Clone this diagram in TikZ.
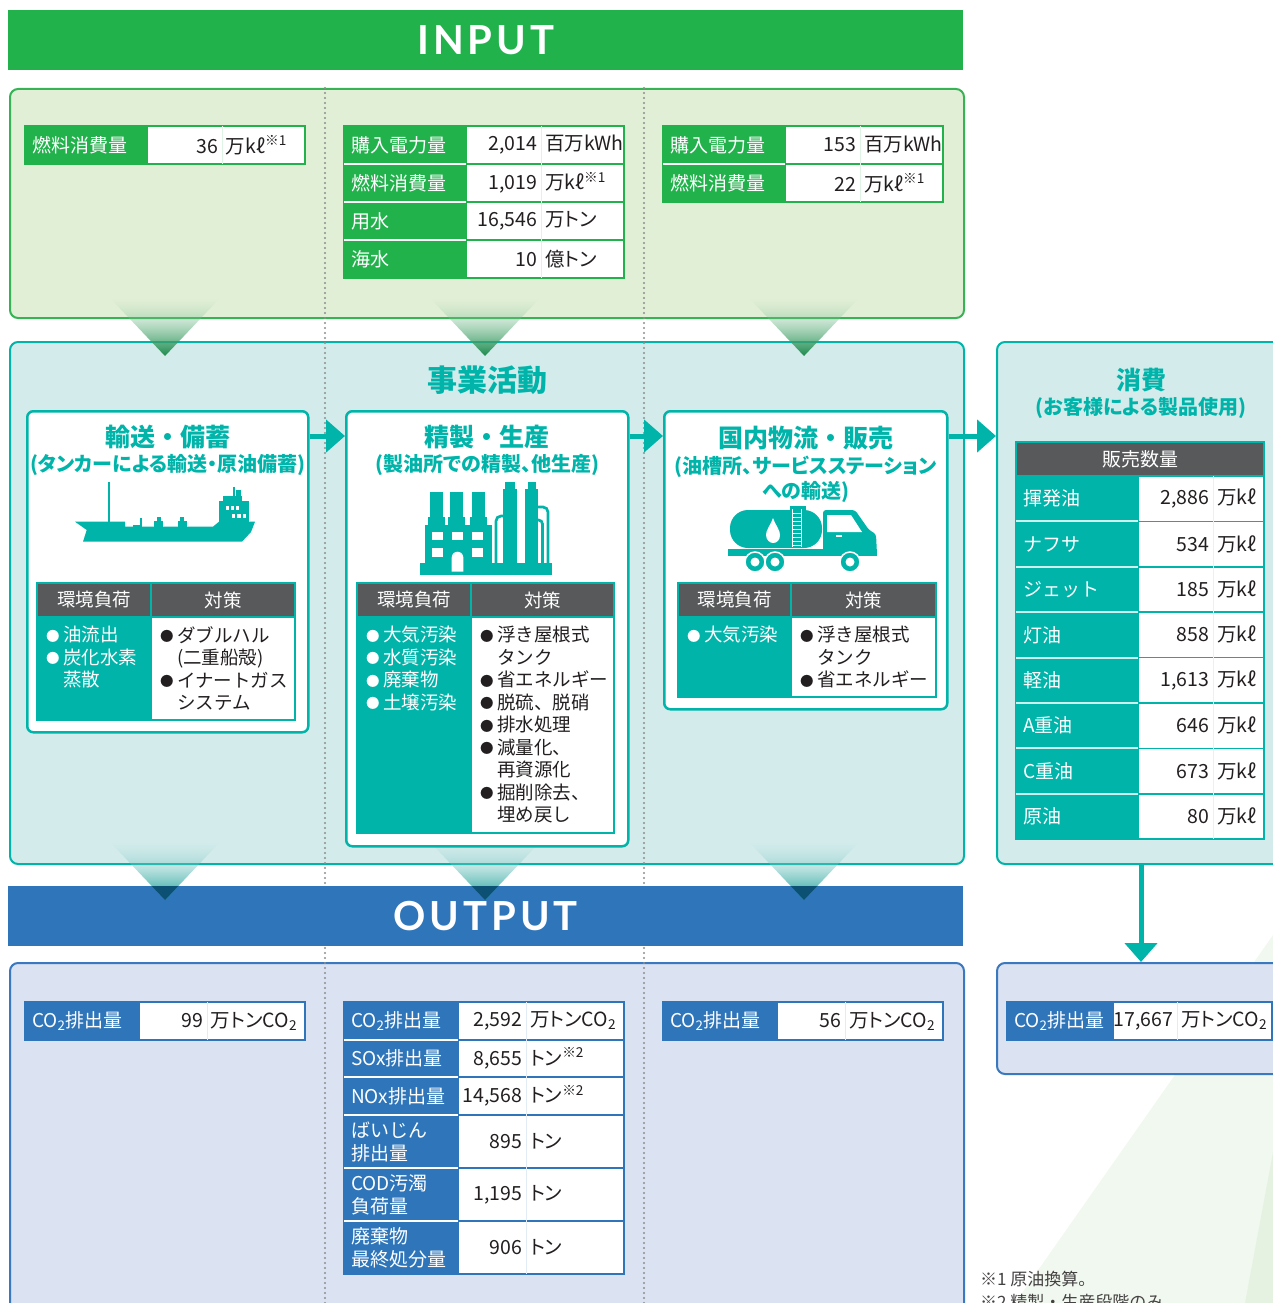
\documentclass[tikz,border=0pt]{standalone}
\usepackage{fontspec}
\setmainfont{Noto Sans CJK JP}
\newfontfamily\bannerfont{Lato}[LetterSpace=10]
\usepackage{tikz}
\usetikzlibrary{positioning,arrows.meta,fadings}

\definecolor{ingreen}{HTML}{22B24C}
\definecolor{inbg}{HTML}{E2EFD7}
\definecolor{inedge}{HTML}{36B455}
\definecolor{tealc}{HTML}{00B4AA}
\definecolor{actbg}{HTML}{D3EBEB}
\definecolor{outblue}{HTML}{2E75BA}
\definecolor{outbg}{HTML}{DBE2F1}
\definecolor{outedge}{HTML}{3A79C0}
\definecolor{hdgray}{HTML}{58595B}
\definecolor{dotgray}{HTML}{8E8E8E}
\definecolor{txtgray}{HTML}{231F20}
\definecolor{funtopg}{HTML}{A5D6AE}
\definecolor{funbotg}{HTML}{1B8A4D}
\definecolor{funtopt}{HTML}{A3D9D5}
\definecolor{funbott}{HTML}{169C96}
\definecolor{funtip}{HTML}{0C5173}
\definecolor{bandlight}{HTML}{F1F8EF}
\definecolor{banddark}{HTML}{E5F2E1}

\tikzfading[name=funnelfade, top color=transparent!100, bottom color=transparent!0]

\newcommand\numunit[3][71pt]{\makebox[#1][r]{#2}\kern8pt#3}
\newcommand\cotwo{CO\textsubscript{2}}
\newcommand\refmark[1]{\textsuperscript{※#1}}
\newcommand\blt{\makebox[17pt][l]{\raisebox{0.6pt}{\fontsize{13.5}{13.5}\selectfont ●}}}
\newcommand\bltsp{\hspace*{17pt}}

\begin{document}
\begin{tikzpicture}[
    x=1pt, y=-1pt,
    font=\fontsize{19}{23}\selectfont,
    >={Triangle[width=32pt,length=19pt]},
    panel/.style={
        rectangle,
        rounded corners=8pt,
        line width=2pt,
        anchor=north west,
        inner sep=0pt
    },
    banner/.style={
        rectangle,
        anchor=north west,
        minimum width=955pt,
        minimum height=60pt,
        inner sep=0pt,
        text=white,
        font=\bannerfont\bfseries\fontsize{40}{40}\selectfont
    },
    stage/.style={
        rectangle,
        rounded corners=6pt,
        draw=tealc,
        line width=2.5pt,
        fill=white,
        anchor=north west,
        inner sep=0pt
    },
    stagetitle/.style={
        text=tealc,
        font=\bfseries\fontsize{25}{28}\selectfont
    },
    stagesub/.style={
        text=tealc,
        align=center,
        font=\bfseries\addfontfeature{RawFeature=+palt}\fontsize{20}{25}\selectfont
    },
    cell/.style={
        rectangle,
        inner ysep=0pt,
        outer sep=0pt,
        line width=1.5pt
    },
    valfont/.style={font=\addfontfeature{RawFeature=+palt}\fontsize{19.5}{23}\selectfont},
    inlab/.style={cell, fill=ingreen, draw=ingreen, text=white, inner xsep=7pt,
        text width=108pt, align=left, minimum height=38pt},
    inval/.style={cell, fill=white, draw=ingreen, text=txtgray, inner xsep=0pt,
        text width=158pt, align=left, minimum height=38pt, valfont},
    outlab/.style={cell, fill=outblue, draw=outblue, text=white, inner xsep=7pt,
        text width=100pt, align=left, minimum height=38pt},
    outval/.style={cell, fill=white, draw=outblue, text=txtgray, inner xsep=0pt,
        text width=166pt, align=left, minimum height=38pt, valfont},
    conshd/.style={cell, anchor=north west, fill=hdgray, draw=tealc, text=white,
        inner xsep=0pt, minimum width=248pt, minimum height=34pt},
    conslab/.style={cell, fill=tealc, draw=tealc, text=white, inner xsep=7pt,
        text width=108pt, align=left, minimum height=45.4pt},
    consval/.style={cell, fill=white, draw=tealc, text=txtgray, inner xsep=0pt,
        text width=126pt, align=left, minimum height=45.4pt, valfont},
    envhd/.style={cell, anchor=north west, fill=hdgray, draw=tealc, text=white,
        inner xsep=0pt, minimum height=34pt, font=\fontsize{18.5}{22}\selectfont},
    envleft/.style={cell, fill=tealc, draw=tealc},
    envright/.style={cell, fill=white, draw=tealc},
    envtext/.style={anchor=north west, inner sep=0pt, align=left,
        font=\fontsize{18.5}{22.5}\selectfont},
    sepline/.style={white, line width=2pt},
    faint/.style={line width=0.8pt},
    flow/.style={->, draw=tealc, line width=5pt},
    dotline/.style={dotgray, line width=2.2pt, line cap=round, dash pattern=on 0pt off 5pt},
    footnote/.style={anchor=west, inner sep=0pt, text=txtgray!85,
        font=\fontsize{17}{20}\selectfont}
  ]
  \useasboundingbox (0,0) rectangle (1273,1303);

  % light bands behind the bottom right corner
  \fill[bandlight] (1273,935) -- (1015,1303) -- (1273,1303) -- cycle;
  \fill[banddark] (1273,1152) -- (1245,1303) -- (1273,1303) -- cycle;

  % We start by placing the panels
  \node [panel, fill=inbg, draw=inedge, minimum width=954pt, minimum height=229pt] (input) at (9,88) {};
  \node [panel, fill=actbg, draw=tealc, minimum width=954pt, minimum height=522pt] (activity) at (9,341) {};
  \node [panel, fill=actbg, draw=tealc, minimum width=288pt, minimum height=522pt] (usage) at (996,341) {};
  \node [panel, fill=outbg, draw=outedge, minimum width=954pt, minimum height=360pt] (output) at (9,962) {};
  \node [panel, fill=outbg, draw=outedge, minimum width=288pt, minimum height=111pt] (usageout) at (996,962) {};

  \draw [dotline] (325,88) -- (325,1303);
  \draw [dotline] (644,88) -- (644,1303);

  \node [banner, fill=ingreen] (inbanner) at (8,10) {INPUT};
  \node [banner, fill=outblue] (outbanner) at (8,886) {OUTPUT};

  % funnels
  \shade [top color=funtopg, bottom color=funbotg, path fading=funnelfade] (110,298) -- (220,298) -- (165,356) -- cycle;
  \shade [top color=funtopg, bottom color=funbotg, path fading=funnelfade] (430,298) -- (540,298) -- (485,356) -- cycle;
  \shade [top color=funtopg, bottom color=funbotg, path fading=funnelfade] (749,298) -- (859,298) -- (804,356) -- cycle;
  \shade [top color=funtopt, bottom color=funbott, path fading=funnelfade] (110,842) -- (220,842) -- (165,900) -- cycle;
  \shade [top color=funtopt, bottom color=funbott, path fading=funnelfade] (430,842) -- (540,842) -- (485,900) -- cycle;
  \shade [top color=funtopt, bottom color=funbott, path fading=funnelfade] (749,842) -- (859,842) -- (804,900) -- cycle;
  \fill [funtip] (151.7,886) -- (178.3,886) -- (165,900) -- cycle;
  \fill [funtip] (471.7,886) -- (498.3,886) -- (485,900) -- cycle;
  \fill [funtip] (790.7,886) -- (817.3,886) -- (804,900) -- cycle;

  \node [stagetitle, font=\bfseries\fontsize{30}{32}\selectfont] (activity-title) at ([yshift=-39pt]activity.north) {事業活動};
  \node [stagetitle] (usage-title) at ([yshift=-39pt]usage.north) {消費};
  \node [stagesub] (usage-sub) at ([yshift=-67pt]usage.north) {(お客様による製品使用)};

  % stage 1: transport and storage
  \node [stage, minimum width=281pt, minimum height=321pt] (trans) at (26,410) {};
  \node [stagetitle] (trans-title) at ([yshift=-27pt]trans.north) {輸送・備蓄};
  \node [stagesub] (trans-sub) at ([yshift=-55pt]trans.north) {(タンカーによる輸送・原油備蓄)};

  % tanker
  \fill [tealc] (75,521.7) -- (125,521.7) -- (125,526.7) -- (213,526.7) -- (219,521.7) -- (255,521.7)
        -- (251,532) -- (242,541.7) -- (83,541.7) -- (86.7,530) -- cycle;
  \fill [tealc] (219.3,501) rectangle (249.3,522);
  \fill [tealc] (223,495.7) rectangle (242,501.5);
  \fill [tealc] (236,490) rectangle (241,496);
  \draw [tealc, line width=1.7pt] (234,486.7) -- (234,496);
  \draw [tealc, line width=1.8pt] (109,481.7) -- (109,522);
  \fill [tealc] (133,524.5) rectangle (142,527);
  \fill [tealc] (140,518) rectangle (141.8,525);
  \fill [tealc] (156.5,516.5) rectangle (160.5,527);
  \fill [tealc] (154,520.5) rectangle (163,527);
  \fill [tealc] (180,516.5) rectangle (184,527);
  \fill [tealc] (177.5,520.5) rectangle (186.5,527);
  \fill [white] (225.5,505.5) rectangle (229,509.7);
  \fill [white] (230.7,505.5) rectangle (234.2,509.7);
  \fill [white] (235.9,505.5) rectangle (239.4,509.7);
  \fill [white] (231.7,514) rectangle (235.2,518.3);
  \fill [white] (237.1,514) rectangle (240.6,518.3);
  \fill [white] (242.5,514) rectangle (246,518.3);

  \node [envhd, minimum width=114pt] (trans-load) at (37,583) {環境負荷};
  \node [envhd, minimum width=144pt, right=0pt of trans-load] (trans-meas) {対策};
  \node [envleft, minimum width=114pt, minimum height=103pt, below=0pt of trans-load] (trans-lb) {};
  \node [envright, minimum width=144pt, minimum height=103pt, below=0pt of trans-meas] (trans-rb) {};
  \node [envtext, text=white, text width=100pt] (trans-lt) at ([xshift=9pt,yshift=-9pt]trans-lb.north west)
    {\blt{}油流出\\\blt{}炭化水素\\\bltsp{}蒸散};
  \node [envtext, text=txtgray, text width=135pt] (trans-rt) at ([xshift=9pt,yshift=-9pt]trans-rb.north west)
    {\blt{}ダブルハル\\\bltsp{}(二重船殻)\\\blt{}イナートガス\\\bltsp{}システム};

  % stage 2: refining and production
  \node [stage, minimum width=282pt, minimum height=435pt] (refine) at (345,410) {};
  \node [stagetitle] (refine-title) at ([yshift=-27pt]refine.north) {精製・生産};
  \node [stagesub] (refine-sub) at ([yshift=-55pt]refine.north) {(製油所での精製、他生産)};

  % refinery
  \fill [tealc] (420,563) rectangle (552,575);
  \fill [tealc] (425,525) rectangle (492,564);
  \fill [tealc] (430,492) rectangle (443,526);
  \fill [tealc] (450,492) rectangle (463,526);
  \fill [tealc] (472,492) rectangle (485,526);
  \fill [tealc] (428,517) rectangle (445,526);
  \fill [tealc] (448,517) rectangle (465,526);
  \fill [tealc] (470,517) rectangle (487,526);
  \fill [white] (431.7,531.7) rectangle (443.3,540);
  \fill [white] (451.7,531.7) rectangle (463.3,540);
  \fill [white] (471.7,531.7) rectangle (483.3,540);
  \fill [white] (431.7,548.3) rectangle (443.3,556.7);
  \fill [white] (471.7,548.3) rectangle (483.3,556.7);
  \fill [white] (451.7,571.7) -- (451.7,557.5) arc [start angle=180, end angle=0, radius=5.8pt] -- (463.3,571.7) -- cycle;
  \fill [tealc] (502.7,489) rectangle (517.3,564);
  \fill [tealc] (505,481.7) rectangle (515,490);
  \fill [tealc] (525,489) rectangle (538.3,564);
  \fill [tealc] (527.5,481.7) rectangle (536,490);
  \draw [tealc, line width=2.7pt, rounded corners=5pt] (503,516) -- (496,516) -- (496,564);
  \draw [tealc, line width=2.7pt, rounded corners=5pt] (538,507) -- (548,507) -- (548,564);
  \draw [tealc, line width=2.7pt, rounded corners=4pt] (538,520) -- (542.5,520) -- (542.5,564);

  \node [envhd, minimum width=114pt] (refine-load) at (357,583) {環境負荷};
  \node [envhd, minimum width=143pt, right=0pt of refine-load] (refine-meas) {対策};
  \node [envleft, minimum width=114pt, minimum height=216pt, below=0pt of refine-load] (refine-lb) {};
  \node [envright, minimum width=143pt, minimum height=216pt, below=0pt of refine-meas] (refine-rb) {};
  \node [envtext, text=white, text width=100pt] (refine-lt) at ([xshift=9pt,yshift=-9pt]refine-lb.north west)
    {\blt{}大気汚染\\\blt{}水質汚染\\\blt{}廃棄物\\\blt{}土壌汚染};
  \node [envtext, text=txtgray, text width=135pt] (refine-rt) at ([xshift=9pt,yshift=-9pt]refine-rb.north west)
    {\blt{}浮き屋根式\\\bltsp{}タンク\\\blt{}省エネルギー\\\blt{}脱硫、脱硝\\\blt{}排水処理\\\blt{}減量化、\\\bltsp{}再資源化\\\blt{}掘削除去、\\\bltsp{}埋め戻し};

  % stage 3: distribution and sales
  \node [stage, minimum width=283pt, minimum height=298pt] (dist) at (663,410) {};
  \node [stagetitle] (dist-title) at ([yshift=-28pt]dist.north) {国内物流・販売};
  \node [stagesub] (dist-sub) at ([yshift=-69.5pt]dist.north) {(油槽所、サービスステーション\\への輸送)};

  % tank lorry
  \fill [tealc, rounded corners=18pt] (730,510) rectangle (822,548);
  \fill [tealc] (790,506) rectangle (806,511);
  \draw [white, line width=0.8pt] (792.5,509) -- (792.5,547) (801.5,509) -- (801.5,547);
  \draw [white, line width=0.7pt] (792.5,513) -- (801.5,513) (792.5,517) -- (801.5,517) (792.5,521) -- (801.5,521)
        (792.5,525) -- (801.5,525) (792.5,529) -- (801.5,529) (792.5,533) -- (801.5,533)
        (792.5,537) -- (801.5,537) (792.5,541) -- (801.5,541) (792.5,545) -- (801.5,545);
  \fill [white] (773,518) .. controls (770,526) and (766,530) .. (766,535) .. controls (766,540) and (770,543) .. (773,543)
        .. controls (777,543) and (780,540) .. (780,535) .. controls (780,530) and (776,526) .. (773,518) -- cycle;
  \fill [tealc] (728,548.5) rectangle (877,555.5);
  \fill [tealc, rounded corners=3pt] (823,510) -- (855,510) -- (869,530) -- (876,534) -- (877,555) -- (823,555) -- cycle;
  \fill [white] (827,515) -- (851,515) -- (862,532) -- (827,532) -- cycle;
  \fill [white] (836,535) rectangle (842,536.5);
  \filldraw [tealc, draw=white, line width=1.5pt] (755,562) circle (10pt);
  \filldraw [tealc, draw=white, line width=1.5pt] (775,562) circle (10pt);
  \filldraw [tealc, draw=white, line width=1.5pt] (850,562) circle (10pt);
  \fill [white] (755,562) circle (4.5pt);
  \fill [white] (775,562) circle (4.5pt);
  \fill [white] (850,562) circle (4.5pt);

  \node [envhd, minimum width=113pt] (dist-load) at (678,583) {環境負荷};
  \node [envhd, minimum width=145pt, right=0pt of dist-load] (dist-meas) {対策};
  \node [envleft, minimum width=113pt, minimum height=80pt, below=0pt of dist-load] (dist-lb) {};
  \node [envright, minimum width=145pt, minimum height=80pt, below=0pt of dist-meas] (dist-rb) {};
  \node [envtext, text=white, text width=100pt] (dist-lt) at ([xshift=9pt,yshift=-9pt]dist-lb.north west)
    {\blt{}大気汚染};
  \node [envtext, text=txtgray, text width=135pt] (dist-rt) at ([xshift=9pt,yshift=-9pt]dist-rb.north west)
    {\blt{}浮き屋根式\\\bltsp{}タンク\\\blt{}省エネルギー};

  % input tables
  \node [inlab, anchor=north west] (fuel1) at (25,126) {燃料消費量};
  \node [inval, right=0pt of fuel1] (fuel1-v) {\numunit{36}{万kℓ\refmark1}};
  \draw [faint, ingreen!14] ([xshift=75pt]fuel1-v.north west) -- ([xshift=75pt]fuel1-v.south west);

  \node [inlab, anchor=north west] (power2) at (344,126) {購入電力量};
  \node [inval, right=0pt of power2] (power2-v) {\numunit{2,014}{百万kWh}};
  \node [inlab, below=0pt of power2] (fuel2) {燃料消費量};
  \node [inval, right=0pt of fuel2] (fuel2-v) {\numunit{1,019}{万kℓ\refmark1}};
  \node [inlab, below=0pt of fuel2] (water2) {用水};
  \node [inval, right=0pt of water2] (water2-v) {\numunit{16,546}{万トン}};
  \node [inlab, below=0pt of water2] (sea2) {海水};
  \node [inval, right=0pt of sea2] (sea2-v) {\numunit{10}{億トン}};
  \draw [sepline] (power2.south west) -- (power2.south east);
  \draw [sepline] (fuel2.south west) -- (fuel2.south east);
  \draw [sepline] (water2.south west) -- (water2.south east);
  \draw [faint, ingreen!14] ([xshift=75pt]power2-v.north west) -- ([xshift=75pt]sea2-v.south west);

  \node [inlab, anchor=north west] (power3) at (663,126) {購入電力量};
  \node [inval, right=0pt of power3] (power3-v) {\numunit{153}{百万kWh}};
  \node [inlab, below=0pt of power3] (fuel3) {燃料消費量};
  \node [inval, right=0pt of fuel3] (fuel3-v) {\numunit{22}{万kℓ\refmark1}};
  \draw [sepline] (power3.south west) -- (power3.south east);
  \draw [faint, ingreen!14] ([xshift=75pt]power3-v.north west) -- ([xshift=75pt]fuel3-v.south west);

  % sales volume table
  \node [conshd] (sales) at (1016,442) {販売数量};
  \node [conslab, anchor=north west] (gas) at (sales.south west) {揮発油};
  \node [consval, right=0pt of gas] (gas-v) {\numunit{2,886}{万kℓ}};
  \node [conslab, below=0pt of gas] (naph) {ナフサ};
  \node [consval, right=0pt of naph] (naph-v) {\numunit{534}{万kℓ}};
  \node [conslab, below=0pt of naph] (jet) {ジェット};
  \node [consval, right=0pt of jet] (jet-v) {\numunit{185}{万kℓ}};
  \node [conslab, below=0pt of jet] (kero) {灯油};
  \node [consval, right=0pt of kero] (kero-v) {\numunit{858}{万kℓ}};
  \node [conslab, below=0pt of kero] (diesel) {軽油};
  \node [consval, right=0pt of diesel] (diesel-v) {\numunit{1,613}{万kℓ}};
  \node [conslab, below=0pt of diesel] (afuel) {A重油};
  \node [consval, right=0pt of afuel] (afuel-v) {\numunit{646}{万kℓ}};
  \node [conslab, below=0pt of afuel] (cfuel) {C重油};
  \node [consval, right=0pt of cfuel] (cfuel-v) {\numunit{673}{万kℓ}};
  \node [conslab, below=0pt of cfuel] (crude) {原油};
  \node [consval, right=0pt of crude] (crude-v) {\numunit{80}{万kℓ}};
  \draw [sepline, white!80!tealc] (gas.south west) -- (gas.south east);
  \draw [sepline, white!80!tealc] (naph.south west) -- (naph.south east);
  \draw [sepline, white!80!tealc] (jet.south west) -- (jet.south east);
  \draw [sepline, white!80!tealc] (kero.south west) -- (kero.south east);
  \draw [sepline, white!80!tealc] (diesel.south west) -- (diesel.south east);
  \draw [sepline, white!80!tealc] (afuel.south west) -- (afuel.south east);
  \draw [sepline, white!80!tealc] (cfuel.south west) -- (cfuel.south east);
  \draw [faint, tealc!12] ([xshift=75pt]gas-v.north west) -- ([xshift=75pt]crude-v.south west);

  % output tables
  \node [outlab, anchor=north west] (co1) at (25,1002) {\cotwo{}排出量};
  \node [outval, right=0pt of co1] (co1-v) {\numunit[64pt]{99}{万トン\cotwo}};
  \draw [faint, outblue!14] ([xshift=68pt]co1-v.north west) -- ([xshift=68pt]co1-v.south west);

  \node [outlab, anchor=north west] (co2) at (344,1002) {\cotwo{}排出量};
  \node [outval, right=0pt of co2] (co2-v) {\numunit[64pt]{2,592}{万トン\cotwo}};
  \node [outlab, below=0pt of co2, minimum height=37pt] (sox) {SOx排出量};
  \node [outval, right=0pt of sox, minimum height=37pt] (sox-v) {\numunit[64pt]{8,655}{トン\refmark2}};
  \node [outlab, below=0pt of sox] (nox) {NOx排出量};
  \node [outval, right=0pt of nox] (nox-v) {\numunit[64pt]{14,568}{トン\refmark2}};
  \node [outlab, below=0pt of nox, minimum height=53pt] (dust) {ばいじん\\排出量};
  \node [outval, right=0pt of dust, minimum height=53pt] (dust-v) {\numunit[64pt]{895}{トン}};
  \node [outlab, below=0pt of dust, minimum height=53pt] (cod) {COD汚濁\\負荷量};
  \node [outval, right=0pt of cod, minimum height=53pt] (cod-v) {\numunit[64pt]{1,195}{トン}};
  \node [outlab, below=0pt of cod, minimum height=53pt] (waste) {廃棄物\\最終処分量};
  \node [outval, right=0pt of waste, minimum height=53pt] (waste-v) {\numunit[64pt]{906}{トン}};
  \draw [sepline] (co2.south west) -- (co2.south east);
  \draw [sepline] (sox.south west) -- (sox.south east);
  \draw [sepline] (nox.south west) -- (nox.south east);
  \draw [sepline] (dust.south west) -- (dust.south east);
  \draw [sepline] (cod.south west) -- (cod.south east);
  \draw [faint, outblue!14] ([xshift=68pt]co2-v.north west) -- ([xshift=68pt]waste-v.south west);

  \node [outlab, anchor=north west] (co3) at (663,1002) {\cotwo{}排出量};
  \node [outval, right=0pt of co3] (co3-v) {\numunit[64pt]{56}{万トン\cotwo}};
  \draw [faint, outblue!14] ([xshift=68pt]co3-v.north west) -- ([xshift=68pt]co3-v.south west);

  \node [outlab, anchor=north west, text width=92pt] (co4) at (1007,1002) {\cotwo{}排出量};
  \node [outval, right=0pt of co4, text width=159pt] (co4-v) {\numunit[60pt]{17,667}{万トン\cotwo}};
  \draw [faint, outblue!14] ([xshift=64pt]co4-v.north west) -- ([xshift=64pt]co4-v.south west);

  % flows between the stages
  \draw [flow] ([yshift=-26pt]trans.north east) -- ([yshift=-26pt]refine.north west);
  \draw [flow] ([yshift=-26pt]refine.north east) -- ([yshift=-26pt]dist.north west);
  \draw [flow] ([yshift=-26pt]dist.north east) -- ([yshift=-95pt]usage.north west);
  \draw [flow] (usage.south) -- (usageout.north);

  \node [footnote] (note1) at (980,1279) {※1 原油換算。};
  \node [footnote] (note2) at (980,1302) {※2 精製・生産段階のみ};

\end{tikzpicture}
\end{document}
